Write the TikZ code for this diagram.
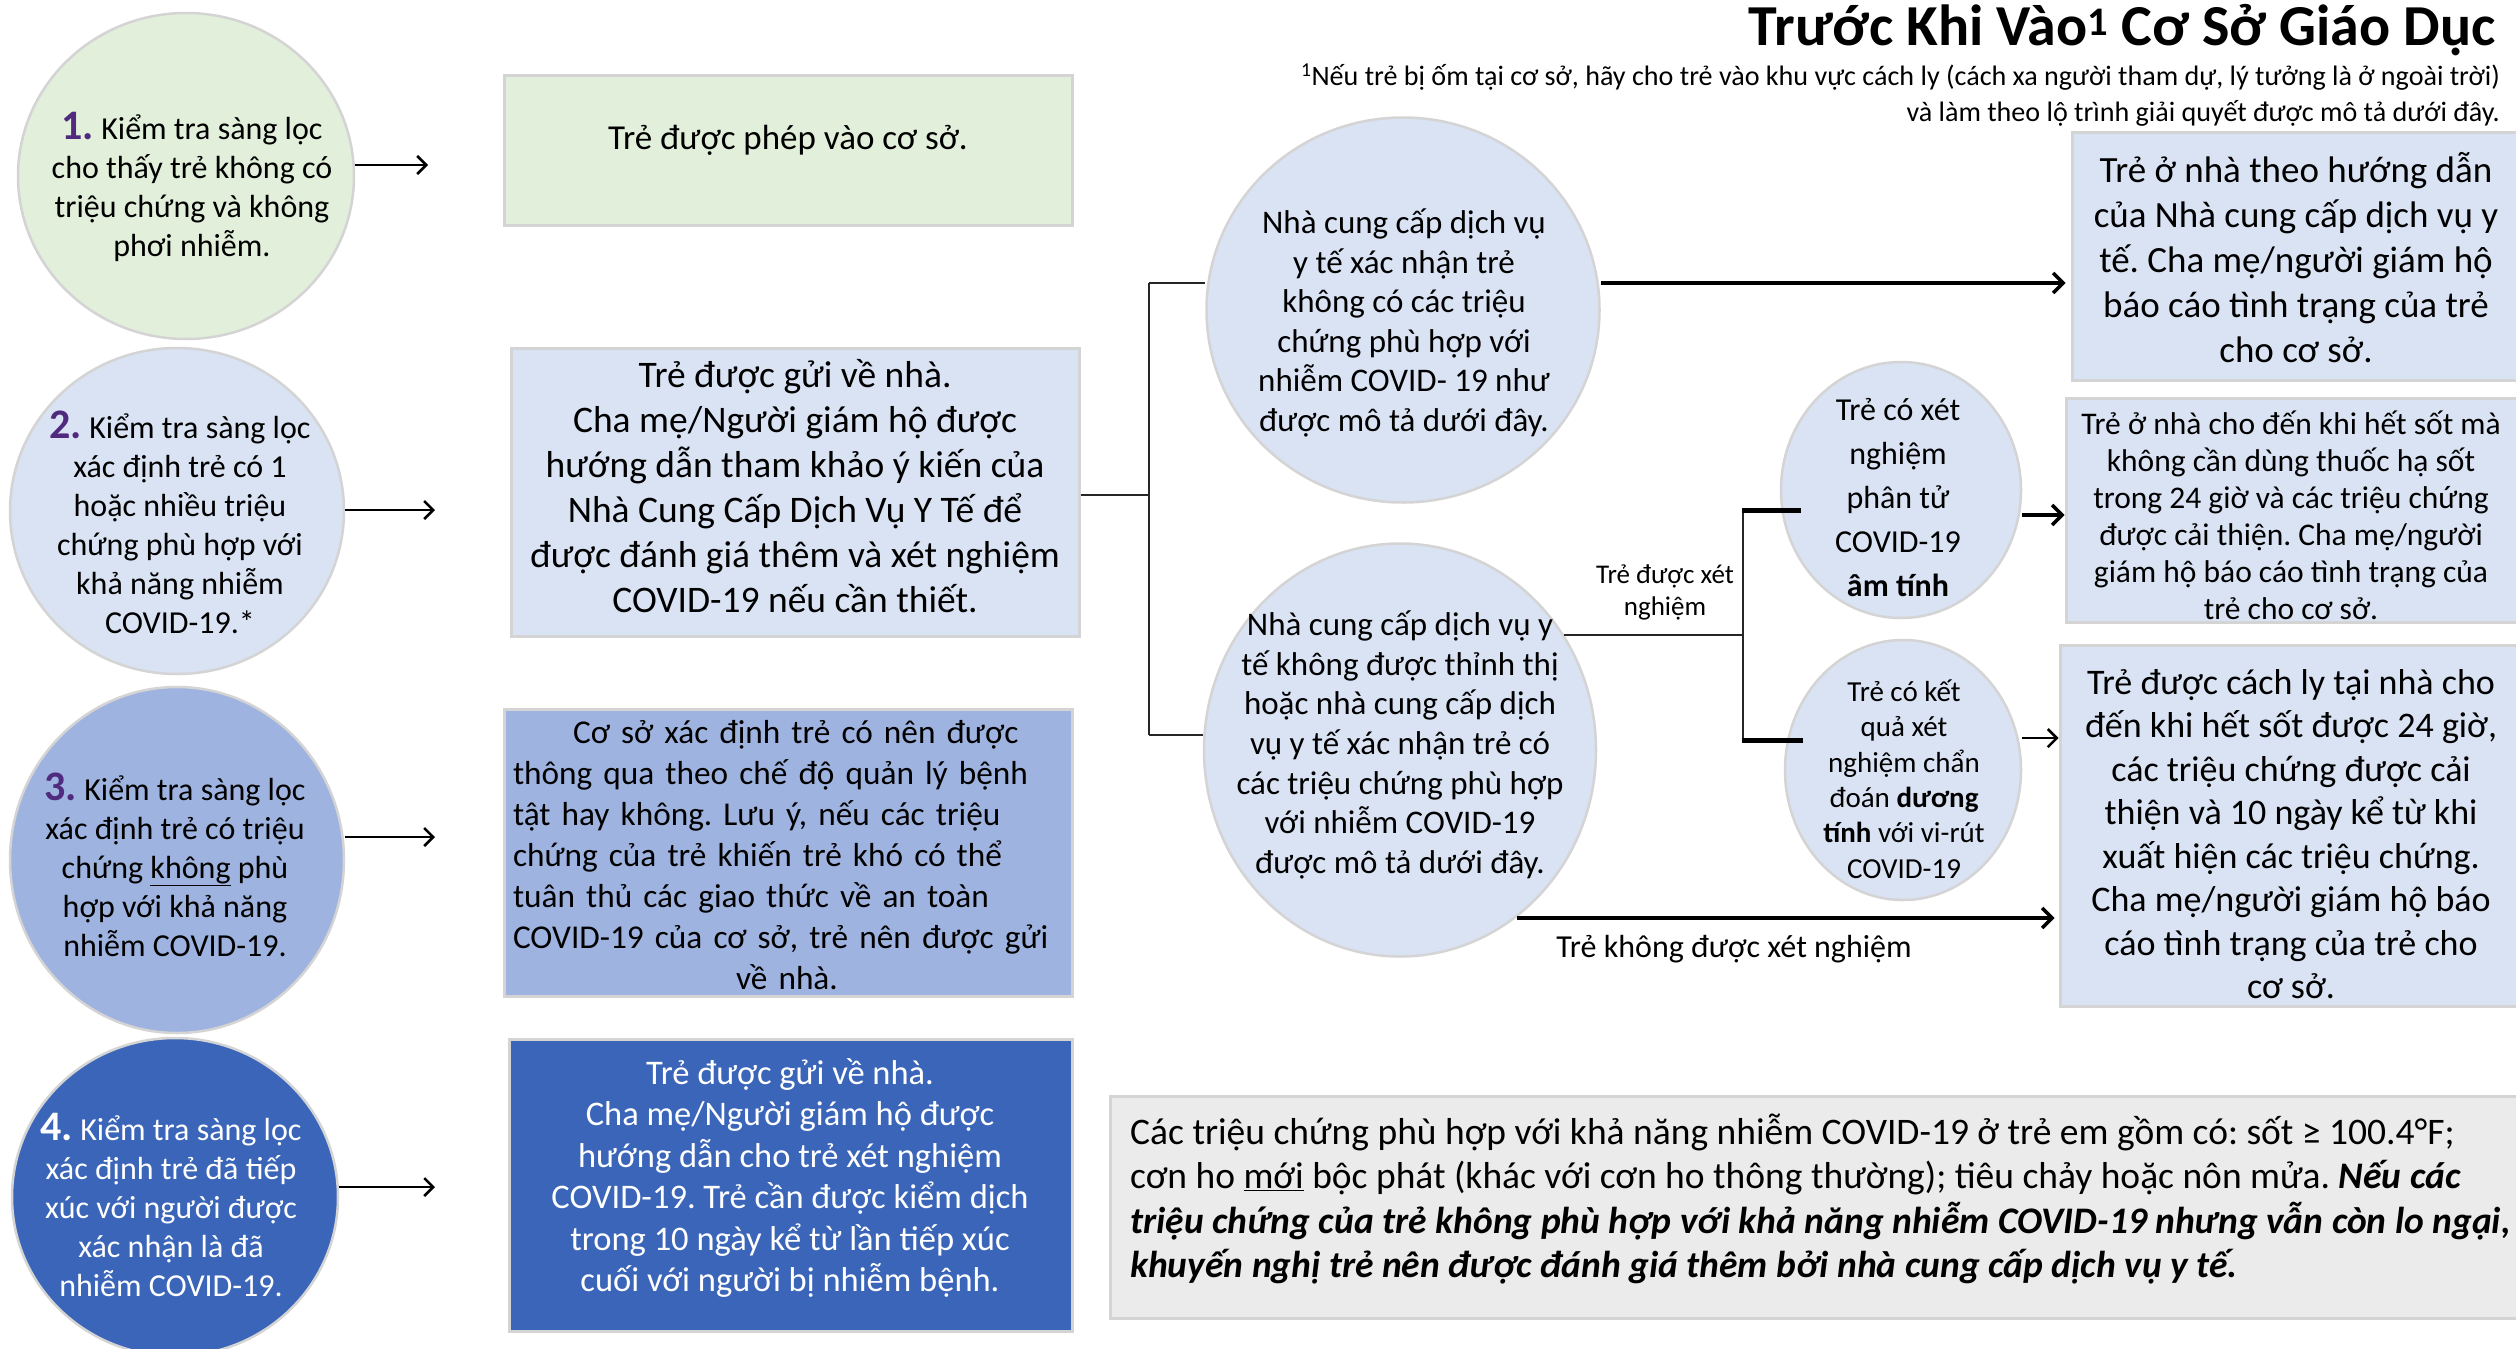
\documentclass[tikz,border=0pt]{standalone}
\usepackage{fontspec}
\setmainfont{Carlito}
\frenchspacing
\usetikzlibrary{shapes.geometric,arrows.meta}
\definecolor{gfill}{HTML}{E2EFDA}
\definecolor{lfill}{HTML}{DAE3F3}
\definecolor{mfill}{HTML}{9EB3DF}
\definecolor{dfill}{HTML}{3A65B8}
\definecolor{bord}{HTML}{D4D4D4}
\definecolor{grayfill}{HTML}{EBEBEB}
\definecolor{numc}{HTML}{4F2A7F}
\newcommand\myfs[2]{\fontsize{#1pt}{#2pt}\selectfont}
\newcommand\numlbl[2][numc]{{\myfs{42}{42}\bfseries\color{#1}#2}}
\begin{document}
\begin{tikzpicture}[x=1pt,y=-1pt,
  ell/.style={ellipse, draw=bord, line width=2.5pt, inner sep=0pt},
  rbox/.style={rectangle, draw=bord, line width=3pt, inner sep=0pt},
  txt/.style={align=center, inner sep=0pt},
  arr/.style={-{Straight Barb[length=9pt,width=18pt]}, line width=2.5pt},
  arrthick/.style={-{Straight Barb[length=10pt,width=20pt]}, line width=3.5pt},
  tree/.style={line width=2pt, draw=black!85},
  stub/.style={line width=5pt}]
\fill[white] (0,0) rectangle (2516,1349);
\useasboundingbox (0,0) rectangle (2516,1349);

% ---------- left column ----------
\node[ell, fill=gfill, minimum width=336, minimum height=326] (c1) at (186,176) {};
\node[ell, fill=lfill, minimum width=334, minimum height=326] (c2) at (177,511) {};
\node[ell, fill=mfill, minimum width=334, minimum height=346] (c3) at (177,860) {};
\node[ell, fill=dfill, minimum width=326, minimum height=318] (c4) at (175,1197) {};

\node[txt, font=\myfs{32}{39}] (t1) at (192,187)
  {\numlbl{1.} Kiểm tra sàng lọc\\cho thấy trẻ không có\\triệu chứng và không\\phơi nhiễm.};
\node[txt, font=\myfs{32}{39}] (t2) at (180,522)
  {\numlbl{2.} Kiểm tra sàng lọc\\xác định trẻ có 1\\hoặc nhiều triệu\\chứng phù hợp với\\khả năng nhiễm\\COVID-19.*};
\node[txt, font=\myfs{32}{39}] (t3) at (175,865)
  {\numlbl{3.} Kiểm tra sàng lọc\\xác định trẻ có triệu\\chứng \underline{không} phù\\hợp với khả năng\\nhiễm COVID-19.};
\node[txt, font=\myfs{32}{39}, text=white] (t4) at (171,1205)
  {\numlbl[white]{4.} Kiểm tra sàng lọc\\xác định trẻ đã tiếp\\xúc với người được\\xác nhận là đã\\nhiễm COVID-19.};

\node[rbox, fill=gfill, minimum width=568, minimum height=150] (b1) at (788,150) {};
\node[rbox, fill=lfill, minimum width=568, minimum height=288] (b2) at (795,492) {};
\node[rbox, fill=mfill, minimum width=568, minimum height=287] (b3) at (788,852.5) {};
\node[rbox, fill=dfill, minimum width=563, minimum height=292] (b4) at (790.5,1185) {};

\node[txt, font=\myfs{35}{42}] (tb1) at (788,140) {Trẻ được phép vào cơ sở.};
\node[txt, font=\myfs{37.5}{45}] (tb2) at (795,486)
  {Trẻ được gửi về nhà.\\Cha mẹ/Người giám hộ được\\hướng dẫn tham khảo ý kiến của\\Nhà Cung Cấp Dịch Vụ Y Tế để\\được đánh giá thêm và xét nghiệm\\COVID-19 nếu cần thiết.};
\node[inner sep=0pt, text width=548pt, align=left, font=\myfs{33.3}{41}] (tb3) at (787,855)
  {\hspace*{60pt}Cơ sở xác định trẻ có nên được\\thông qua theo chế độ quản lý bệnh\\tật hay không. Lưu ý, nếu các triệu\\chứng của trẻ khiến trẻ khó có thể\\tuân thủ các giao thức về an toàn\\COVID-19 của cơ sở, trẻ nên được gửi\\\makebox[\linewidth]{về nhà.}};
\node[txt, font=\myfs{34.5}{41.4}, text=white] (tb4) at (790,1178)
  {Trẻ được gửi về nhà.\\Cha mẹ/Người giám hộ được\\hướng dẫn cho trẻ xét nghiệm\\COVID-19. Trẻ cần được kiểm dịch\\trong 10 ngày kể từ lần tiếp xúc\\cuối với người bị nhiễm bệnh.};

\coordinate (e1) at (428,165);
\coordinate (e2) at (435,510);
\coordinate (e3) at (435,837);
\coordinate (e4) at (435,1187);
\draw[arr] (c1.east |- e1) -- (e1);
\draw[arr] (c2.east |- e2) -- (e2);
\draw[arr] (c3.east |- e3) -- (e3);
\draw[arr] (c4.east |- e4) -- (e4);

% ---------- right part ----------
\node[ell, fill=lfill, minimum width=393, minimum height=385] (A) at (1403,310) {};
\node[ell, fill=lfill, minimum width=392, minimum height=413] (B) at (1400,750) {};
\node[ell, fill=lfill, minimum width=240, minimum height=256] (C) at (1901,490) {};
\node[ell, fill=lfill, minimum width=236, minimum height=260] (D) at (1903,770) {};

\node[rbox, fill=lfill, minimum width=458, minimum height=248] (R1) at (2301,256) {};
\node[rbox, fill=lfill, minimum width=464, minimum height=224] (R2) at (2298,510) {};
\node[rbox, fill=lfill, minimum width=470, minimum height=361] (R3) at (2295,825.5) {};
\node[rbox, fill=grayfill, minimum width=1420, minimum height=222] (G) at (1820,1207) {};

\node[txt, font=\myfs{33}{39.5}] (tA) at (1404,323)
  {Nhà cung cấp dịch vụ\\y tế xác nhận trẻ\\không có các triệu\\chứng phù hợp với\\nhiễm COVID- 19 như\\được mô tả dưới đây.};
\node[txt, font=\myfs{33}{39.6}] (tB) at (1400,745)
  {Nhà cung cấp dịch vụ y\\tế không được thỉnh thị\\hoặc nhà cung cấp dịch\\vụ y tế xác nhận trẻ có\\các triệu chứng phù hợp\\với nhiễm COVID-19\\được mô tả dưới đây.};
\node[txt, font=\myfs{32}{44}] (tC) at (1898,498)
  {Trẻ có xét\\nghiệm\\phân tử\\COVID-19\\\textbf{âm tính}};
\node[txt, font=\myfs{29}{35.4}] (tD) at (1904,779)
  {Trẻ có kết\\quả xét\\nghiệm chẩn\\đoán \textbf{dương}\\\textbf{tính} với vi-rút\\COVID-19};

\node[txt, font=\myfs{37}{45}] (tR1) at (2296,258)
  {Trẻ ở nhà theo hướng dẫn\\của Nhà cung cấp dịch vụ y\\tế. Cha mẹ/người giám hộ\\báo cáo tình trạng của trẻ\\cho cơ sở.};
\node[txt, font=\myfs{31.5}{37}] (tR2) at (2291,515)
  {Trẻ ở nhà cho đến khi hết sốt mà\\không cần dùng thuốc hạ sốt\\trong 24 giờ và các triệu chứng\\được cải thiện. Cha mẹ/người\\giám hộ báo cáo tình trạng của\\trẻ cho cơ sở.};
\node[txt, font=\myfs{36}{43.5}] (tR3) at (2291,834)
  {Trẻ được cách ly tại nhà cho\\đến khi hết sốt được 24 giờ,\\các triệu chứng được cải\\thiện và 10 ngày kể từ khi\\xuất hiện các triệu chứng.\\Cha mẹ/người giám hộ báo\\cáo tình trạng của trẻ cho\\cơ sở.};
\node[inner sep=0pt, align=left, anchor=west, font=\myfs{37.5}{44.5}] (tG) at (1130,1199)
  {Các triệu chứng phù hợp với khả năng nhiễm COVID-19 ở trẻ em gồm có: sốt ≥ 100.4°F;\\cơn ho \underline{mới} bộc phát (khác với cơn ho thông thường); tiêu chảy hoặc nôn mửa. \textbf{\textit{Nếu các}}\\\textbf{\textit{triệu chứng của trẻ không phù hợp với khả năng nhiễm COVID-19 nhưng vẫn còn lo ngại,}}\\\textbf{\textit{khuyến nghị trẻ nên được đánh giá thêm bởi nhà cung cấp dịch vụ y tế.}}};

% tree from box 2
\coordinate (j) at (1149,495);
\coordinate (jA) at (1149,283);
\coordinate (jB) at (1149,735);
\draw[tree] (b2.east |- j) -- (j);
\draw[tree] (jA) -- (jB);
\draw[tree] (jA) -- (A.west |- jA);
\draw[tree] (jB) -- (B.west |- jB);

% tested branch
\coordinate (k) at (1743,635);
\coordinate (kt) at (1743,510);
\coordinate (kb) at (1743,740);
\draw[tree] (B.35 |- k) -- (k);
\draw[tree] (kt) -- (kb);
\draw[stub] ([xshift=-1pt]kt) -- ([xshift=21pt]C.west |- kt);
\draw[stub] ([xshift=-1pt]kb) -- ([xshift=19pt]D.west |- kb);
\node[txt, font=\myfs{27}{32}] (lt) at (1665,592) {Trẻ được xét\\nghiệm};

% arrows right
\coordinate (ya) at (0,283);
\coordinate (yc) at (0,515);
\coordinate (yd) at (0,738);
\coordinate (yn) at (0,918);
\draw[arrthick] (A.east |- ya) -- ([xshift=-5pt]R1.west |- ya);
\draw[arrthick] (C.east |- yc) -- (R2.west |- yc);
\draw[arr] (D.east |- yd) -- (R3.west |- yd);
\draw[arrthick] (B.-55 |- yn) -- ([xshift=-4pt]R3.west |- yn);
\node[txt, font=\myfs{32}{38}] (ln) at (1734,949) {Trẻ không được xét nghiệm};

% title
\node[inner sep=0pt, anchor=base east, font=\bfseries\myfs{58}{60}] (title) at (2496,45)
  {Trước Khi Vào\textsuperscript{1} Cơ Sở Giáo Dục};
\node[inner sep=0pt, align=right, anchor=north east, font=\myfs{28.1}{36}] (fn) at (2500,64)
  {\textsuperscript{1}Nếu trẻ bị ốm tại cơ sở, hãy cho trẻ vào khu vực cách ly (cách xa người tham dự, lý tưởng là ở ngoài trời)\\và làm theo lộ trình giải quyết được mô tả dưới đây.};
\end{tikzpicture}
\end{document}
